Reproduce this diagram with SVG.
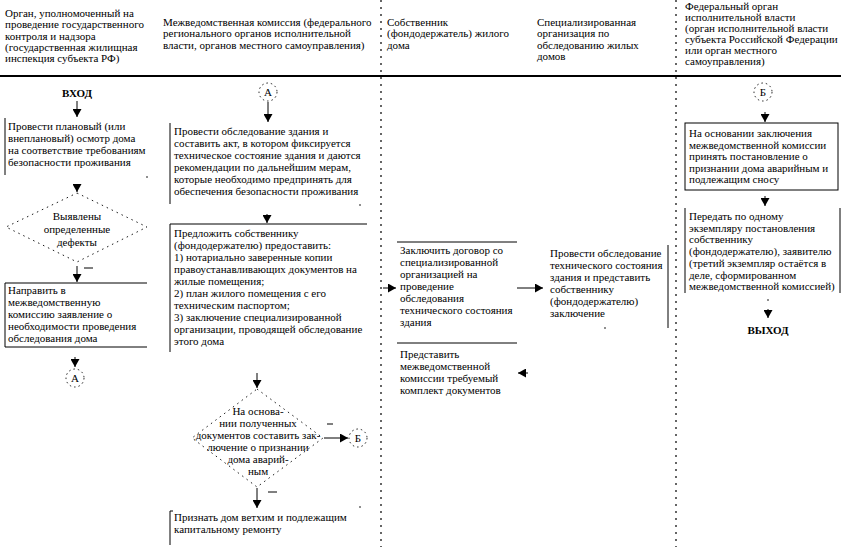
<svg xmlns="http://www.w3.org/2000/svg" width="841" height="547" viewBox="0 0 841 547">
<style>
.t{font-family:"Liberation Serif","Times New Roman",serif;font-size:11px;fill:#000}
.c{text-anchor:middle}
.b{font-weight:bold}
.ln{stroke:#000;stroke-width:1;fill:none}
.dv{stroke:#000;stroke-width:1.2;stroke-dasharray:2 5;fill:none}
.dd{stroke:#000;stroke-width:0.9;stroke-dasharray:1.5 4;fill:none}
.dc{stroke:#000;stroke-width:0.9;stroke-dasharray:1.5 3;fill:none}
.dot{fill:#000}
</style>
<defs>
<marker id="ah" viewBox="0 0 8 9" refX="8" refY="4.5" markerWidth="8" markerHeight="9" orient="auto" markerUnits="userSpaceOnUse"><path d="M0,0 L8,4.5 L0,9 z" fill="#000"/></marker>
</defs>
<rect width="841" height="547" fill="#fff"/>

<g id="header">
<text class="t" x="5" y="17">Орган, уполномоченный на</text>
<text class="t" x="5" y="28.3">проведение государственного</text>
<text class="t" x="5" y="39.6">контроля и надзора</text>
<text class="t" x="5" y="50.9">(государственная жилищная</text>
<text class="t" x="5" y="62.2">инспекция субъекта РФ)</text>
<text class="t" x="163" y="26">Межведомственная комиссия (федерального</text>
<text class="t" x="163" y="37.3">регионального органов исполнительной</text>
<text class="t" x="163" y="48.6">власти, органов местного самоуправления)</text>
<text class="t" x="387" y="26">Собственник</text>
<text class="t" x="387" y="37.3">(фондодержатель) жилого</text>
<text class="t" x="387" y="48.6">дома</text>
<text class="t" x="537" y="26">Специализированная</text>
<text class="t" x="537" y="37.3">организация по</text>
<text class="t" x="537" y="48.6">обследованию жилых</text>
<text class="t" x="537" y="59.9">домов</text>
<text class="t" x="685" y="9.5">Федеральный орган</text>
<text class="t" x="685" y="20.5">исполнительной власти</text>
<text class="t" x="685" y="31.5">(орган исполнительной власти</text>
<text class="t" x="685" y="42.5">субъекта Российской Федерации</text>
<text class="t" x="685" y="53.5">или орган местного</text>
<text class="t" x="685" y="64.5">самоуправления)</text>
<line x1="0" y1="76" x2="841" y2="76" stroke="#000" stroke-width="2"/>
<line class="dv" x1="381" y1="0" x2="381" y2="547"/>
<line class="dv" x1="676" y1="0" x2="676" y2="547"/>
</g>

<g id="connectors">
<line class="ln" x1="77" y1="101" x2="77" y2="117" marker-end="url(#ah)"/>
<line class="ln" x1="77" y1="184" x2="77" y2="192" marker-end="url(#ah)"/>
<line class="ln" x1="77" y1="266" x2="77" y2="282" marker-end="url(#ah)"/>
<line class="ln" x1="75" y1="357" x2="75" y2="367" marker-end="url(#ah)"/>
<line class="ln" x1="268" y1="102" x2="268" y2="122" marker-end="url(#ah)"/>
<line class="ln" x1="267" y1="214" x2="267" y2="223" marker-end="url(#ah)"/>
<line class="ln" x1="383" y1="288" x2="396" y2="288" marker-end="url(#ah)"/>
<line class="ln" x1="517" y1="288" x2="543" y2="288" marker-end="url(#ah)"/>
<line class="ln" x1="528" y1="373" x2="518" y2="373" marker-end="url(#ah)"/>
<line class="ln" x1="257" y1="373" x2="257" y2="388" marker-end="url(#ah)"/>
<line class="ln" x1="324" y1="438" x2="348" y2="438" marker-end="url(#ah)"/>
<line class="ln" x1="257" y1="488" x2="257" y2="508" marker-end="url(#ah)"/>
<line class="ln" x1="765" y1="112" x2="765" y2="122" marker-end="url(#ah)"/>
<line class="ln" x1="765" y1="196" x2="765" y2="206" marker-end="url(#ah)"/>
<line class="ln" x1="768" y1="309" x2="768" y2="318" marker-end="url(#ah)"/>
<line class="ln" x1="84" y1="268" x2="93" y2="268"/>
<line class="ln" x1="327" y1="424" x2="333" y2="424"/>
<line class="ln" x1="268" y1="492" x2="277" y2="492"/>
</g>

<g id="vhod"><text class="t c b" x="77" y="97">ВХОД</text></g>

<g id="n1">
<line class="ln" x1="5" y1="118" x2="5" y2="175"/>
<circle class="dot" cx="147" cy="177" r="0.8"/>
<text class="t" x="8" y="130">Провести плановый (или</text>
<text class="t" x="8" y="142">внеплановый) осмотр дома</text>
<text class="t" x="8" y="154">на соответствие требованиям</text>
<text class="t" x="8" y="166">безопасности проживания</text>
</g>

<g id="d1">
<path class="dd" d="M77,193 L147,227 L77,262 L6,227 Z"/>
<text class="t c" x="77" y="220">Выявлены</text>
<text class="t c" x="77" y="233">определенные</text>
<text class="t c" x="77" y="246">дефекты</text>
</g>

<g id="n2">
<path class="ln" d="M147,283 H5 V347 H147"/>
<text class="t" x="8" y="294">Направить в</text>
<text class="t" x="8" y="306">межведомственную</text>
<text class="t" x="8" y="318">комиссию заявление о</text>
<text class="t" x="8" y="330">необходимости проведения</text>
<text class="t" x="8" y="342">обследования дома</text>
</g>

<g id="a1">
<circle class="dc" cx="75" cy="378" r="9"/>
<text class="t c" x="75" y="382">А</text>
</g>

<g id="a2">
<circle class="dc" cx="268" cy="92" r="9"/>
<text class="t c" x="268" y="96">А</text>
</g>

<g id="n3">
<line class="ln" x1="170" y1="123" x2="170" y2="204"/>
<circle class="dot" cx="360" cy="205" r="0.8"/>
<text class="t" x="174" y="135">Провести обследование здания и</text>
<text class="t" x="174" y="147">составить акт, в котором фиксируется</text>
<text class="t" x="174" y="159">техническое состояние здания и даются</text>
<text class="t" x="174" y="171">рекомендации по дальнейшим мерам,</text>
<text class="t" x="174" y="183">которые необходимо предпринять для</text>
<text class="t" x="174" y="195">обеспечения безопасности проживания</text>
</g>

<g id="n4">
<path class="ln" d="M367,224 H170 V352"/>
<text class="t" x="174" y="237">Предложить собственнику</text>
<text class="t" x="174" y="249">(фондодержателю) предоставить:</text>
<text class="t" x="174" y="261">1)   нотариально заверенные копии</text>
<text class="t" x="174" y="273">правоустанавливающих документов на</text>
<text class="t" x="174" y="285">жилые помещения;</text>
<text class="t" x="174" y="297">2)   план жилого помещения с его</text>
<text class="t" x="174" y="309">техническим паспортом;</text>
<text class="t" x="174" y="321">3)   заключение специализированной</text>
<text class="t" x="174" y="333">организации, проводящей обследование</text>
<text class="t" x="174" y="345">этого дома</text>
</g>

<g id="d2">
<path class="dd" d="M257,389 L323,438 L257,487 L192,438 Z"/>
<text class="t c" x="258" y="415">На основа-</text>
<text class="t c" x="258" y="427">нии полученных</text>
<text class="t c" x="258" y="439">документов составить зак-</text>
<text class="t c" x="258" y="451">лючение о признании</text>
<text class="t c" x="258" y="463">дома аварий-</text>
<text class="t c" x="258" y="475">ным</text>
</g>

<g id="b1">
<circle class="dc" cx="358" cy="438" r="9"/>
<text class="t c" x="358" y="442">Б</text>
</g>

<g id="n5">
<line class="ln" x1="170" y1="511" x2="170" y2="545"/>
<line class="ln" x1="170" y1="511" x2="173" y2="511"/>
<circle class="dot" cx="360" cy="507" r="0.8"/>
<text class="t" x="174" y="521">Признать дом ветхим и подлежащим</text>
<text class="t" x="174" y="533">капитальному ремонту</text>
</g>

<g id="n6">
<line class="ln" x1="397" y1="242" x2="517" y2="242"/>
<text class="t" x="400" y="254">Заключить договор со</text>
<text class="t" x="400" y="266">специализированной</text>
<text class="t" x="400" y="278">организацией на</text>
<text class="t" x="400" y="290">проведение</text>
<text class="t" x="400" y="302">обследования</text>
<text class="t" x="400" y="314">технического состояния</text>
<text class="t" x="400" y="326">здания</text>
</g>

<g id="n7">
<line class="ln" x1="397" y1="343" x2="517" y2="343"/>
<text class="t" x="400" y="358">Представить</text>
<text class="t" x="400" y="370">межведомственной</text>
<text class="t" x="400" y="382">комиссии требуемый</text>
<text class="t" x="400" y="394">комплект документов</text>
</g>

<g id="n8">
<line class="ln" x1="668" y1="245" x2="668" y2="328"/>
<circle class="dot" cx="605" cy="328" r="0.8"/>
<text class="t" x="550" y="257">Провести обследование</text>
<text class="t" x="550" y="269">технического состояния</text>
<text class="t" x="550" y="281">здания и представить</text>
<text class="t" x="550" y="293">собственнику</text>
<text class="t" x="550" y="305">(фондодержателю)</text>
<text class="t" x="550" y="317">заключение</text>
</g>

<g id="b2">
<circle class="dc" cx="763" cy="92" r="9"/>
<text class="t c" x="763" y="96">Б</text>
</g>

<g id="n9">
<rect class="ln" x="685" y="123" width="153" height="67"/>
<text class="t" x="689" y="137">На основании заключения</text>
<text class="t" x="689" y="148.5">межведомственной комиссии</text>
<text class="t" x="689" y="160">принять постановление о</text>
<text class="t" x="689" y="171.5">признании дома аварийным и</text>
<text class="t" x="689" y="183">подлежащим сносу</text>
</g>

<g id="n10">
<line class="ln" x1="685" y1="208" x2="685" y2="293"/>
<line class="ln" x1="840" y1="208" x2="840" y2="293"/>
<circle class="dot" cx="768" cy="300" r="0.8"/>
<text class="t" x="689" y="220">Передать по одному</text>
<text class="t" x="689" y="231.7">экземпляру постановления</text>
<text class="t" x="689" y="243.4">собственнику</text>
<text class="t" x="689" y="255.1">(фондодержателю), заявителю</text>
<text class="t" x="689" y="266.8">(третий экземпляр остаётся в</text>
<text class="t" x="689" y="278.5">деле, сформированном</text>
<text class="t" x="689" y="290.2">межведомственной комиссией)</text>
</g>

<g id="vyhod"><text class="t c b" x="768" y="334">ВЫХОД</text></g>
</svg>
